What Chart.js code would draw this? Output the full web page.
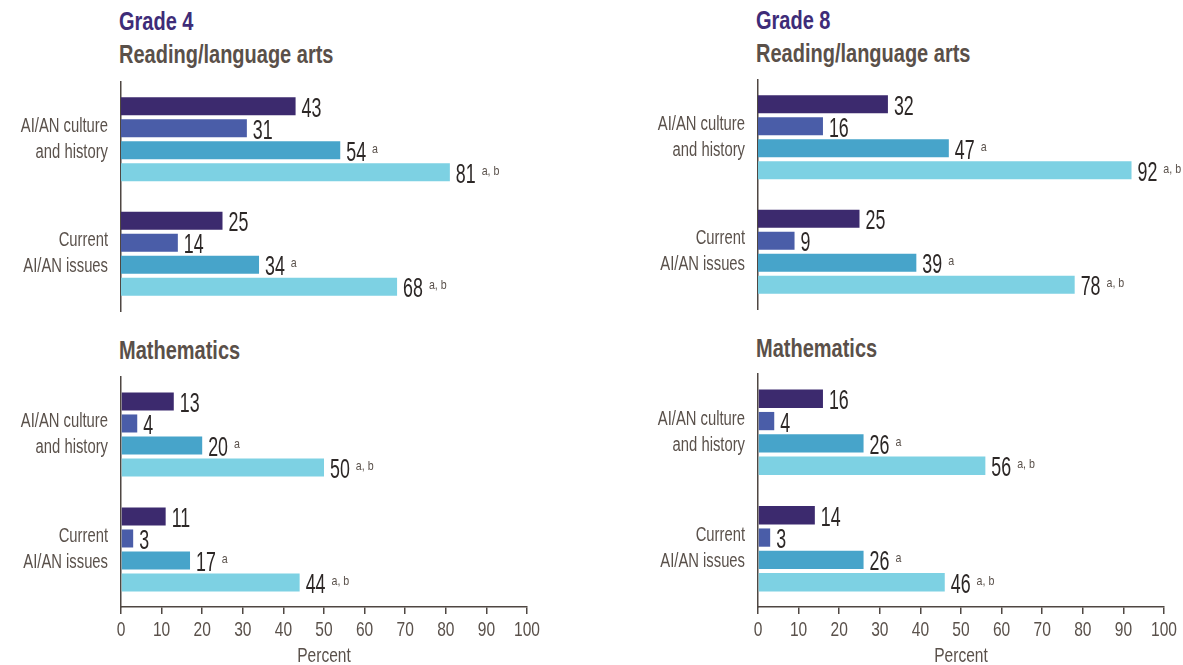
<!DOCTYPE html>
<html>
<head>
<meta charset="utf-8">
<script src="https://cdn.jsdelivr.net/npm/chart.js@4.4.1/dist/chart.umd.min.js"></script>
<style>
  html, body { margin: 0; padding: 0; background: #ffffff; }
  #wrap { position: relative; width: 1183px; height: 665px; overflow: hidden; }
  canvas { position: absolute; }
  .t { position: absolute; white-space: nowrap; font-family: 'Liberation Sans', Arial, sans-serif; font-weight: bold; font-size: 25px; line-height: 25px; transform: scaleX(0.8); transform-origin: 0 0; }
  .grade { color: #3e2c78; }
  .sub { color: #5a5049; }
</style>
</head>
<body>
<div id="wrap">
  <div class="t grade" style="left:119px; top:9px;">Grade 4</div>
  <div class="t sub" style="left:119px; top:42px;">Reading/language arts</div>
  <div class="t sub" style="left:119px; top:338px;">Mathematics</div>
  <div class="t grade" style="left:756px; top:8px;">Grade 8</div>
  <div class="t sub" style="left:756px; top:41px;">Reading/language arts</div>
  <div class="t sub" style="left:756px; top:336px;">Mathematics</div>
  <canvas id="g4r" width="600" height="250" style="left:0px; top:70px;"></canvas>
  <canvas id="g4m" width="600" height="300" style="left:0px; top:365px;"></canvas>
  <canvas id="g8r" width="583" height="252" style="left:600px; top:68px;"></canvas>
  <canvas id="g8m" width="583" height="303" style="left:600px; top:362px;"></canvas>
</div>
<script>
// ---------------- data ----------------
const categories = [["AI/AN culture", "and history"], ["Current", "AI/AN issues"]];
const seriesNames = ["Group 1", "Group 2", "Group 3", "Group 4"];
const seriesNotes = ["", "", "a", "a, b"];
const xTickMin = 0, xTickMax = 100, xTickStep = 10;
const xAxisTitle = "Percent";

// values per series: [AI/AN culture and history, Current AI/AN issues]
const g4ReadingS1 = [43, 25];
const g4ReadingS2 = [31, 14];
const g4ReadingS3 = [54, 34];
const g4ReadingS4 = [81, 68];

const g4MathS1 = [13, 11];
const g4MathS2 = [4, 3];
const g4MathS3 = [20, 17];
const g4MathS4 = [50, 44];

const g8ReadingS1 = [32, 25];
const g8ReadingS2 = [16, 9];
const g8ReadingS3 = [47, 39];
const g8ReadingS4 = [92, 78];

const g8MathS1 = [16, 14];
const g8MathS2 = [4, 3];
const g8MathS3 = [26, 26];
const g8MathS4 = [56, 46];

// ---------------- style ----------------
const FONT = "'Liberation Sans', Arial, sans-serif";
const barColors = ["#3c2a6e", "#4a5da8", "#47a4ca", "#7dd1e3"];
const axisColor = "#4f4742";
const labelColor = "#5a514b";
const valueColor = "#2c2726";
const TEXT_SX = 0.74;   // horizontal condensing of canvas text (condensed typeface look)
const VALUE_SX = 0.66;
const NOTE_SX = 0.82;

// condense all canvas text horizontally
const condense = {
  id: 'condense',
  beforeInit(chart) {
    const ctx = chart.ctx;
    const orig = ctx.fillText.bind(ctx);
    ctx.__sx = TEXT_SX;
    ctx.fillText = function (t, x, y) {
      this.save();
      this.translate(x, y);
      this.scale(this.__sx, 1);
      orig(t, 0, 0);
      this.restore();
    };
  }
};

const valueLabels = {
  id: 'valueLabels',
  afterDatasetsDraw(chart) {
    const ctx = chart.ctx;
    ctx.save();
    chart.data.datasets.forEach((ds, i) => {
      const meta = chart.getDatasetMeta(i);
      meta.data.forEach((bar, j) => {
        const txt = String(ds.data[j]);
        const x = bar.x + 6;
        const y = bar.y;
        ctx.font = "27px " + FONT;
        ctx.fillStyle = valueColor;
        ctx.textAlign = 'left';
        ctx.textBaseline = 'alphabetic';
        ctx.__sx = VALUE_SX;
        ctx.fillText(txt, x, y + 10.5);
        const w = ctx.measureText(txt).width * VALUE_SX;
        if (ds.note) {
          ctx.font = "13px " + FONT;
          ctx.fillStyle = labelColor;
          ctx.__sx = NOTE_SX;
          ctx.fillText(ds.note, x + w + 6, y + 2.5);
        }
      });
    });
    ctx.__sx = TEXT_SX;
    ctx.restore();
  }
};

function makeDatasets(series) {
  return series.map((vals, i) => ({
    label: seriesNames[i],
    data: vals,
    note: seriesNotes[i],
    backgroundColor: barColors[i],
    borderWidth: 0,
    categoryPercentage: 0.767,
    barPercentage: 0.818
  }));
}

function makeChart(id, series, opts) {
  const showX = opts.showX;
  return new Chart(document.getElementById(id), {
    type: 'bar',
    data: { labels: categories, datasets: makeDatasets(series) },
    plugins: [condense, valueLabels],
    options: {
      indexAxis: 'y',
      responsive: false,
      animation: false,
      devicePixelRatio: 1,
      layout: { padding: { top: opts.padTop, bottom: opts.padBottom, right: opts.padRight, left: 0 } },
      plugins: { legend: { display: false }, tooltip: { enabled: false }, title: { display: false } },
      scales: {
        x: {
          display: showX,
          min: xTickMin, max: xTickMax,
          ticks: { stepSize: xTickStep, color: labelColor, font: { family: FONT, size: 21 }, padding: 4, maxRotation: 0, autoSkip: false },
          grid: { display: true, drawOnChartArea: false, drawTicks: true, tickLength: 7, color: axisColor, lineWidth: 1.5 },
          border: { display: true, color: axisColor, width: 1.5 },
          title: { display: showX, text: xAxisTitle, color: labelColor, font: { family: FONT, size: 21 }, padding: { top: 0, bottom: -4 } },
          afterFit(scale) { if (showX) scale.height = 58; scale.paddingLeft = 0; scale.paddingRight = 0; }
        },
        y: {
          ticks: { color: labelColor, font: { family: FONT, size: 20, lineHeight: 1.3 }, padding: 13 },
          grid: { display: false, drawTicks: false },
          border: { display: true, color: axisColor, width: 1.5 },
          afterFit(scale) { scale.width = opts.yWidth; scale.paddingTop = 0; scale.paddingBottom = 0; }
        }
      }
    }
  });
}

makeChart('g4r', [g4ReadingS1, g4ReadingS2, g4ReadingS3, g4ReadingS4], { showX: false, padTop: 12, padBottom: 9, padRight: 73, yWidth: 121 });
makeChart('g4m', [g4MathS1, g4MathS2, g4MathS3, g4MathS4], { showX: true, padTop: 12, padBottom: 0, padRight: 73, yWidth: 121 });
makeChart('g8r', [g8ReadingS1, g8ReadingS2, g8ReadingS3, g8ReadingS4], { showX: false, padTop: 12, padBottom: 11, padRight: 19, yWidth: 158 });
makeChart('g8m', [g8MathS1, g8MathS2, g8MathS3, g8MathS4], { showX: true, padTop: 12, padBottom: 0, padRight: 19, yWidth: 158 });
</script>
</body>
</html>
